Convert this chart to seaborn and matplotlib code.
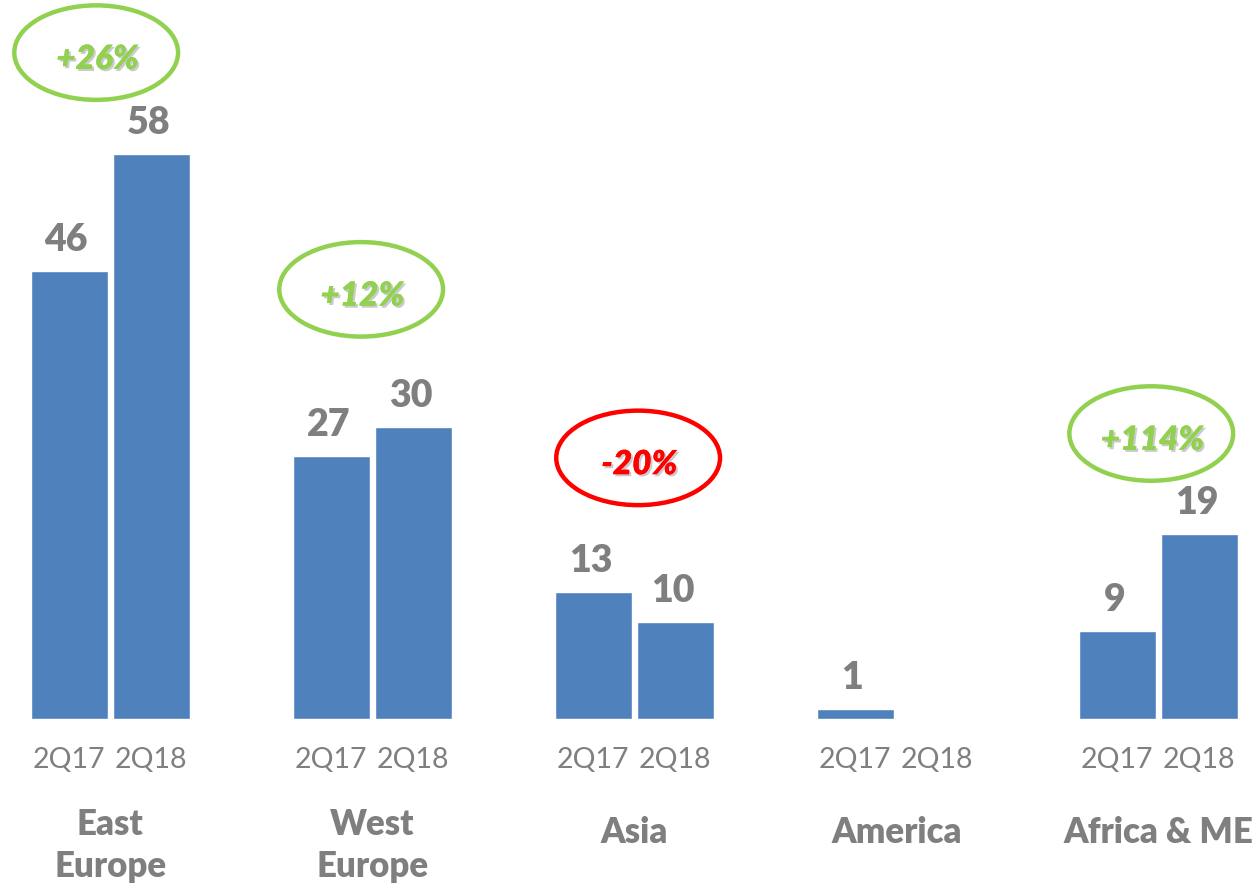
"""Regional volumes 2Q17 vs 2Q18 — seaborn grouped bars with growth bubbles."""

import matplotlib
matplotlib.use("Agg")
import matplotlib.pyplot as plt
import matplotlib.patheffects as pe
from matplotlib.patches import Ellipse
import seaborn as sns
import pandas as pd

regions = ["East\nEurope", "West\nEurope", "Asia", "America", "Africa & ME"]
periods = ["2Q17", "2Q18"]
values_2q17 = [46, 27, 13, 1, 9]
values_2q18 = [58, 30, 10, 0, 19]
growth_labels = ["+26%", "+12%", "-20%", None, "+114%"]
growth_positive = [True, True, False, None, True]

BLUE = "#4F81BD"
GREY = "#7F7F7F"
GREEN = "#92D050"
RED = "#FF0000"

sns.set_style("white")
plt.rcParams["font.family"] = ["Lato", "DejaVu Sans"]

df = pd.DataFrame({
    "region": regions * 2,
    "period": [periods[0]] * len(regions) + [periods[1]] * len(regions),
    "value": values_2q17 + values_2q18,
})

fig = plt.figure(figsize=(12.54, 8.84), dpi=100)
ax = fig.add_axes([0, 0, 1, 1])

sns.barplot(data=df, x="region", y="value", hue="period", order=regions,
            hue_order=periods, palette=[BLUE, BLUE], width=0.626, gap=0.061,
            saturation=1, legend=False, ax=ax)

ax.set_xlim(-0.42, 4.365)
ax.set_ylim(-16.94, 73.8)
ax.axis("off")

# value labels and period labels under each bar
for period, cont in zip(periods, ax.containers):
    for bar in cont:
        cx = bar.get_x() + bar.get_width() / 2
        h = bar.get_height()
        if h > 0:
            ax.annotate(f"{h:.0f}", (cx, h), xytext=(-2, 10), textcoords="offset points",
                        ha="center", va="bottom", fontsize=27, fontweight="heavy", color=GREY)
        ax.text(cx, -4.2, period, ha="center", va="center", fontsize=20.5, color=GREY)

# region names
for i, name in enumerate(regions):
    y = -13.0 if "\n" in name else -11.7
    ax.text(i, y, name, ha="center", va="center", fontsize=25, fontweight="heavy",
            color=GREY, linespacing=1.35)

# growth bubbles
bubble_offsets = [(-0.053, 10.4), (-0.042, 14.1), (0.015, 13.8), None, (-0.027, 10.3)]
for i, (lab, pos, off) in enumerate(zip(growth_labels, growth_positive, bubble_offsets)):
    if lab is None:
        continue
    top = max(values_2q17[i], values_2q18[i])
    cx, cy = i + off[0], top + off[1]
    col = GREEN if pos else RED
    ax.add_patch(Ellipse((cx, cy), width=0.625, height=9.7, fill=False,
                         edgecolor=col, linewidth=3.2))
    ax.text(cx + 0.005, cy - 0.7, lab, ha="center", va="center", fontsize=24,
            fontweight="heavy", fontstyle="italic", color=col,
            path_effects=[pe.withSimplePatchShadow(offset=(1.5, -1.5), shadow_rgbFace="#999999",
                                                   alpha=0.5), pe.Normal()])

fig.savefig("out.png", dpi=100)
plt.close(fig)
